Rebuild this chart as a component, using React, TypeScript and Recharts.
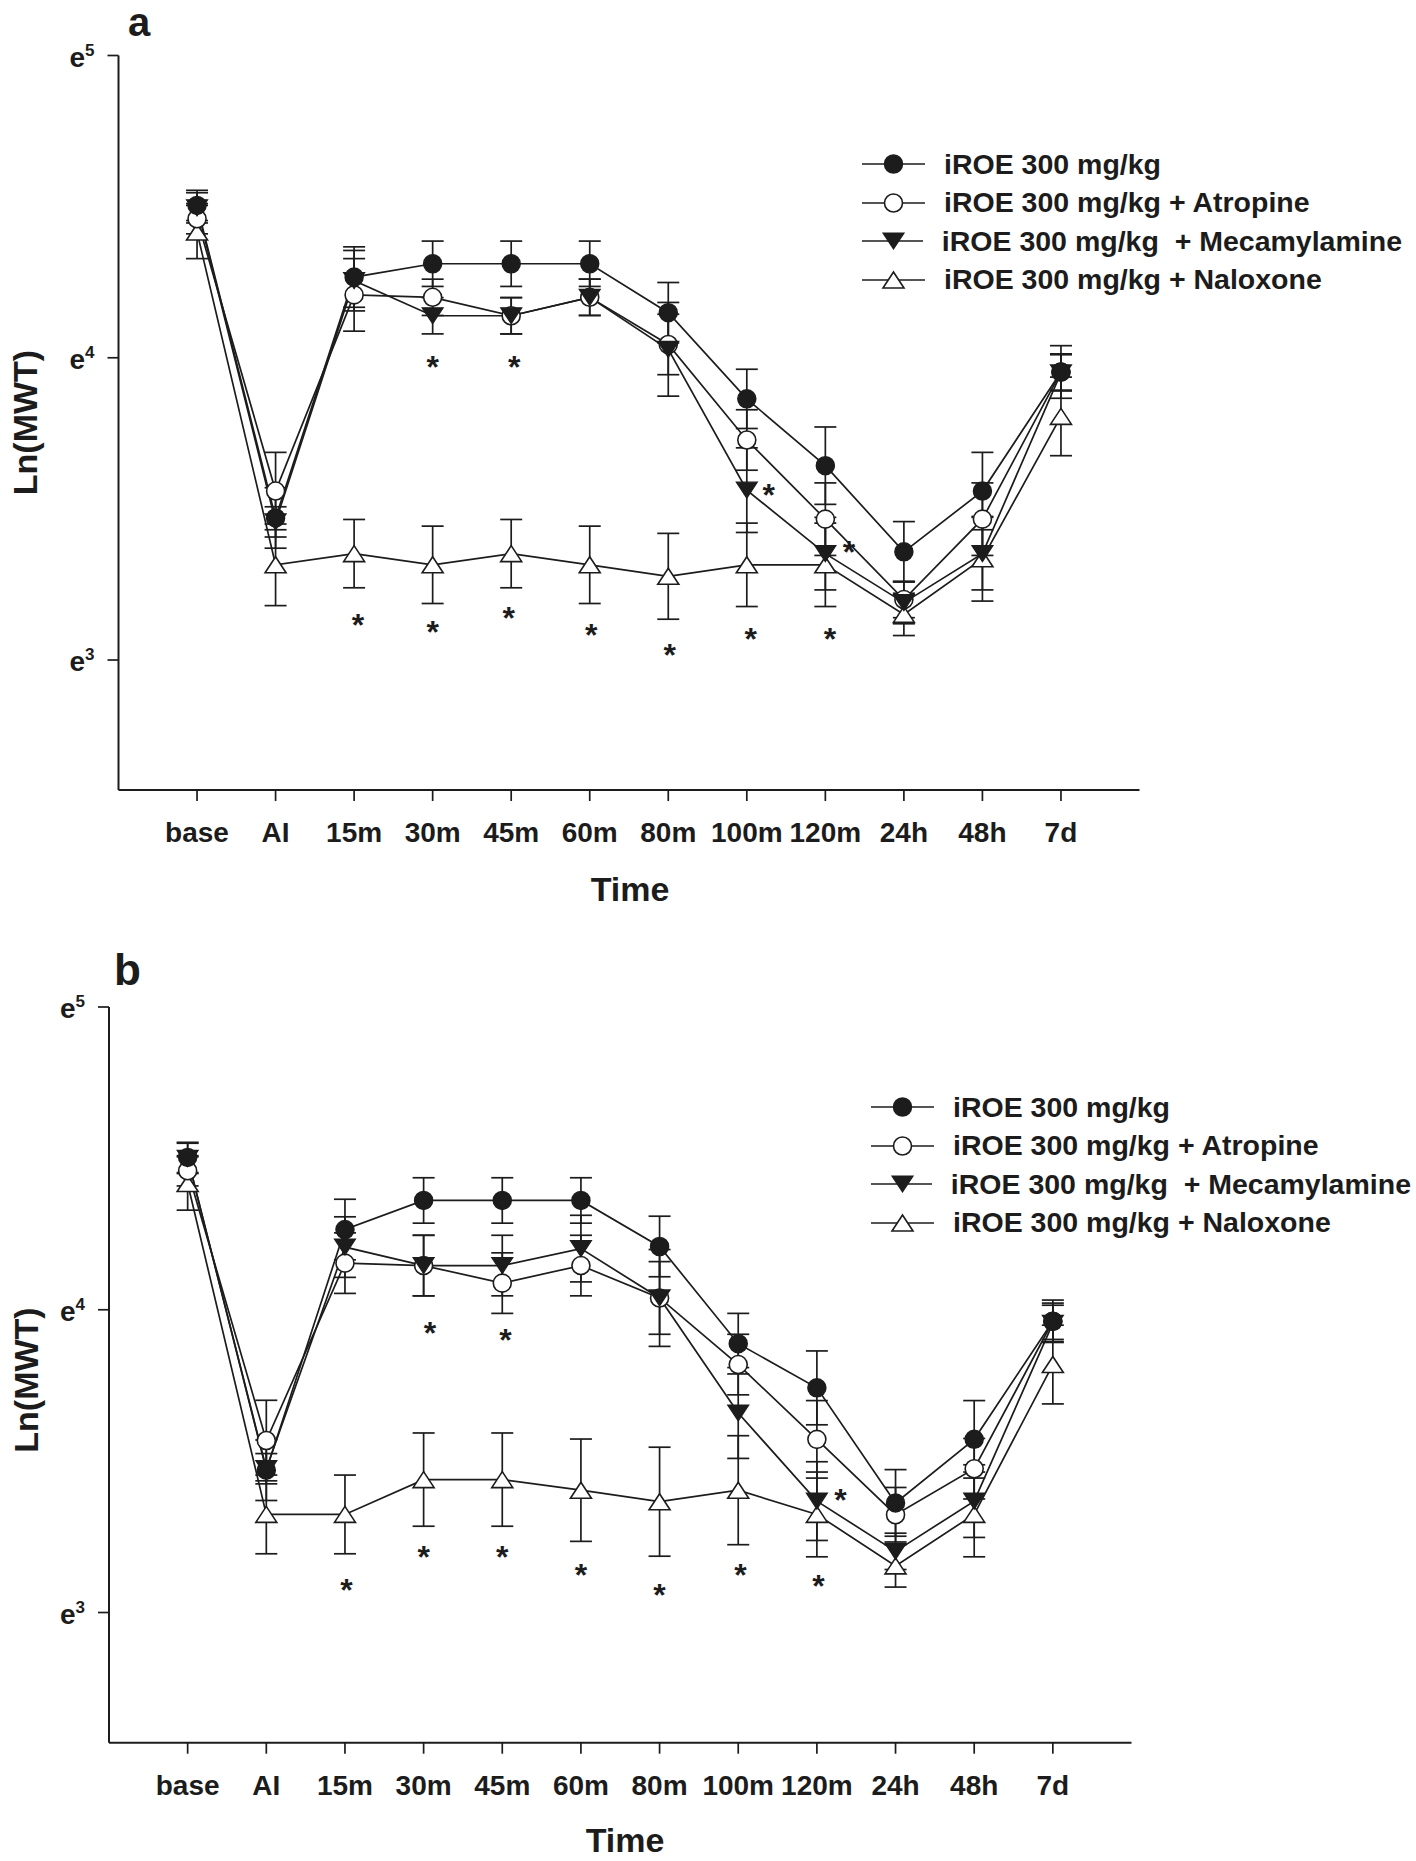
import { ComposedChart, Line, Scatter, XAxis, YAxis, ErrorBar, Legend } from "recharts";

// Ln(MWT) per time point (ln units), with SEM
const TIME_LABELS = ["base", "AI", "15m", "30m", "45m", "60m", "80m", "100m", "120m", "24h", "48h", "7d"];
const Y_TICKS = [3, 4, 5];

// panel a
const IROE_A = [4.504, 3.47, 4.267, 4.311, 4.311, 4.311, 4.149, 3.864, 3.643, 3.358, 3.559, 3.953];
const IROE_A_SE = [0.05, 0.1, 0.1, 0.075, 0.075, 0.075, 0.1, 0.098, 0.128, 0.1, 0.128, 0.087];
const ATR_A = [4.46, 3.559, 4.208, 4.2, 4.139, 4.2, 4.044, 3.728, 3.466, 3.2, 3.466, 3.953];
const ATR_A_SE = [0.05, 0.128, 0.12, 0.06, 0.06, 0.06, 0.1, 0.1, 0.12, 0.06, 0.12, 0.06];
const MEC_A = [4.496, 3.457, 4.255, 4.139, 4.139, 4.2, 4.028, 3.562, 3.352, 3.19, 3.352, 3.95];
const MEC_A_SE = [0.05, 0.05, 0.1, 0.06, 0.06, 0.06, 0.155, 0.14, 0.12, 0.07, 0.12, 0.06];
const NAL_A = [4.416, 3.315, 3.352, 3.315, 3.352, 3.315, 3.277, 3.315, 3.315, 3.151, 3.335, 3.806];
const NAL_A_SE = [0.088, 0.135, 0.113, 0.128, 0.113, 0.128, 0.142, 0.138, 0.138, 0.07, 0.14, 0.13];
const STARS_A = [
  { x: 4.0, y: 3.99 }, { x: 5.04, y: 3.99 },
  { x: 3.05, y: 3.137 }, { x: 4.0, y: 3.114 }, { x: 4.97, y: 3.16 }, { x: 6.02, y: 3.102 },
  { x: 7.02, y: 3.038 }, { x: 8.05, y: 3.09 }, { x: 9.06, y: 3.09 },
  { x: 8.28, y: 3.567 }, { x: 9.3, y: 3.376 },
];

// panel b
const IROE_B = [4.503, 3.47, 4.265, 4.361, 4.361, 4.361, 4.209, 3.888, 3.742, 3.362, 3.572, 3.962];
const IROE_B_SE = [0.05, 0.1, 0.1, 0.075, 0.075, 0.075, 0.1, 0.1, 0.122, 0.11, 0.128, 0.07];
const ATR_B = [4.459, 3.568, 4.154, 4.146, 4.088, 4.146, 4.039, 3.819, 3.572, 3.323, 3.475, 3.962];
const ATR_B_SE = [0.05, 0.133, 0.1, 0.1, 0.1, 0.1, 0.12, 0.1, 0.128, 0.09, 0.1, 0.06];
const MEC_B = [4.5, 3.475, 4.207, 4.146, 4.146, 4.202, 4.039, 3.659, 3.368, 3.202, 3.368, 3.955];
const MEC_B_SE = [0.05, 0.05, 0.1, 0.1, 0.1, 0.11, 0.16, 0.15, 0.13, 0.06, 0.12, 0.06];
const NAL_B = [4.417, 3.324, 3.324, 3.439, 3.439, 3.404, 3.366, 3.404, 3.324, 3.154, 3.324, 3.819];
const NAL_B_SE = [0.088, 0.13, 0.13, 0.154, 0.154, 0.169, 0.18, 0.18, 0.14, 0.07, 0.14, 0.13];
const STARS_B = [
  { x: 4.08, y: 3.942 }, { x: 5.04, y: 3.92 },
  { x: 3.02, y: 3.095 }, { x: 4.0, y: 3.202 }, { x: 5.0, y: 3.202 }, { x: 6.0, y: 3.143 },
  { x: 7.0, y: 3.077 }, { x: 8.03, y: 3.143 }, { x: 9.02, y: 3.107 },
  { x: 9.3, y: 3.392 },
];

const INK = "#1c1c1c";
const FONT = "'Liberation Sans', Arial, Helvetica, sans-serif";

const SERIES = [
  { key: "iroe", name: "iROE 300 mg/kg", marker: "filledCircle" },
  { key: "atr", name: "iROE 300 mg/kg + Atropine", marker: "openCircle" },
  { key: "mec", name: "iROE 300 mg/kg  + Mecamylamine", marker: "filledDown" },
  { key: "nal", name: "iROE 300 mg/kg + Naloxone", marker: "openUp" },
];

function buildRows(iroe: number[], iroeSe: number[], atr: number[], atrSe: number[], mec: number[], mecSe: number[], nal: number[], nalSe: number[]) {
  return TIME_LABELS.map((label, i) => ({
    x: i + 1, label,
    iroe: iroe[i], iroeErr: iroeSe[i],
    atr: atr[i], atrErr: atrSe[i],
    mec: mec[i], mecErr: mecSe[i],
    nal: nal[i], nalErr: nalSe[i],
  }));
}

const rowsA = buildRows(IROE_A, IROE_A_SE, ATR_A, ATR_A_SE, MEC_A, MEC_A_SE, NAL_A, NAL_A_SE);
const rowsB = buildRows(IROE_B, IROE_B_SE, ATR_B, ATR_B_SE, MEC_B, MEC_B_SE, NAL_B, NAL_B_SE);

function Marker({ kind, cx, cy }: { kind: string; cx: number; cy: number }) {
  const r = 9, w = 10.5, h = 8;
  if (kind === "filledCircle") return <circle cx={cx} cy={cy} r={r} fill={INK} stroke={INK} strokeWidth={1.5} />;
  if (kind === "openCircle") return <circle cx={cx} cy={cy} r={r} fill="#fff" stroke={INK} strokeWidth={1.6} />;
  if (kind === "filledDown")
    return <polygon points={`${cx - w},${cy - h} ${cx + w},${cy - h} ${cx},${cy + h}`} fill={INK} stroke={INK} strokeWidth={1.2} />;
  return <polygon points={`${cx - w},${cy + h} ${cx + w},${cy + h} ${cx},${cy - h}`} fill="#fff" stroke={INK} strokeWidth={1.6} />;
}

const dotFor = (kind: string) => (p: any) => (
  <Marker key={`${kind}-${p.index}`} kind={kind} cx={p.cx} cy={p.cy} />
);

const renderStar = (p: any) => (
  <text x={p.cx} y={p.cy + 17} textAnchor="middle" fontFamily={FONT} fontWeight={700} fontSize={32} fill={INK}>*</text>
);

function ExpTick({ x, y, payload }: any) {
  return (
    <text x={x} y={y + 11} textAnchor="end" fontFamily={FONT} fontWeight={700} fontSize={28} fill={INK}>
      e<tspan dy={-11} fontSize={17}>{payload.value}</tspan>
    </text>
  );
}

function LegendBox({ payload }: any) {
  const items = SERIES.filter((s) => (payload || []).some((p: any) => p.dataKey === s.key));
  return (
    <div>
      {items.map((s) => (
        <div key={s.key} style={{ display: "flex", alignItems: "center", height: 38.5 }}>
          <svg width={63} height={24} style={{ display: "block" }}>
            <line x1={0} x2={63} y1={12} y2={12} stroke={INK} strokeWidth={1.7} />
            <Marker kind={s.marker} cx={31.5} cy={12} />
          </svg>
          <span style={{ marginLeft: 19, fontFamily: FONT, fontWeight: 700, fontSize: 28.5, color: INK, whiteSpace: "pre" }}>
            {s.name}
          </span>
        </div>
      ))}
    </div>
  );
}

function Panel({ rows, stars, height, margin, yAxisWidth, xAxisHeight, legendPos }: any) {
  // draw order: naloxone first, iROE on top
  const order = ["nal", "atr", "mec", "iroe"];
  return (
    <ComposedChart width={1416} height={height} data={rows} margin={margin}>
      <XAxis
        type="number" dataKey="x" domain={[0, 13]} ticks={TIME_LABELS.map((_, i) => i + 1)} interval={0}
        allowDataOverflow tickFormatter={(v: number) => TIME_LABELS[v - 1] ?? ""}
        height={xAxisHeight} tickSize={11} tickMargin={21}
        axisLine={{ stroke: INK, strokeWidth: 2 }} tickLine={{ stroke: INK, strokeWidth: 1.7 }}
        tick={{ fontFamily: FONT, fontWeight: 700, fontSize: 28, fill: INK }}
      />
      <YAxis
        type="number" domain={[2.57, 5]} ticks={Y_TICKS} interval={0} allowDataOverflow
        width={yAxisWidth} tickSize={11} tickMargin={13}
        axisLine={{ stroke: INK, strokeWidth: 2 }} tickLine={{ stroke: INK, strokeWidth: 1.7 }}
        tick={<ExpTick />}
      />
      <Legend
        layout="vertical" align="center" verticalAlign="middle"
        wrapperStyle={{ left: legendPos.left, top: legendPos.top, width: 540 }}
        content={<LegendBox />}
      />
      {order.map((key) => {
        const s = SERIES.find((d) => d.key === key)!;
        return (
          <Line
            key={key} type="linear" dataKey={key} name={s.name} stroke={INK} strokeWidth={1.7}
            dot={dotFor(s.marker)} activeDot={false} isAnimationActive={false}
          >
            <ErrorBar dataKey={`${key}Err`} width={11} stroke={INK} strokeWidth={1.7} direction="y" />
          </Line>
        );
      })}
      <Scatter data={stars} dataKey="y" shape={renderStar} legendType="none" isAnimationActive={false} />
    </ComposedChart>
  );
}

export default function App() {
  const titleStyle = { fontFamily: FONT, fontWeight: 700, fill: INK } as const;
  return (
    <div style={{ position: "absolute", left: 0, top: 0, width: 1416, height: 1861, background: "#fff" }}>
      <div style={{ position: "absolute", left: 0, top: 0 }}>
        <Panel
          rows={rowsA} stars={STARS_A} height={930}
          margin={{ top: 55.5, right: 276.5, bottom: 20, left: 0 }}
          yAxisWidth={118.5} xAxisHeight={120}
          legendPos={{ left: 862, top: 145 }}
        />
      </div>
      <div style={{ position: "absolute", left: 0, top: 930 }}>
        <Panel
          rows={rowsB} stars={STARS_B} height={931}
          margin={{ top: 77, right: 284.5, bottom: 8.3, left: 0 }}
          yAxisWidth={109} xAxisHeight={110}
          legendPos={{ left: 871, top: 158 }}
        />
      </div>
      <svg width={1416} height={1861} style={{ position: "absolute", left: 0, top: 0, pointerEvents: "none" }}>
        <text x={128} y={36} fontWeight={700} fontSize={40} {...titleStyle}>a</text>
        <text x={114} y={985} fontWeight={700} fontSize={44} {...titleStyle}>b</text>
        <text x={630} y={901} textAnchor="middle" fontSize={34} {...titleStyle}>Time</text>
        <text x={625} y={1852} textAnchor="middle" fontSize={34} {...titleStyle}>Time</text>
        <text x={37} y={422.5} textAnchor="middle" fontSize={34} transform="rotate(-90 37 422.5)" {...titleStyle}>Ln(MWT)</text>
        <text x={38} y={1380} textAnchor="middle" fontSize={34} transform="rotate(-90 38 1380)" {...titleStyle}>Ln(MWT)</text>
      </svg>
    </div>
  );
}
